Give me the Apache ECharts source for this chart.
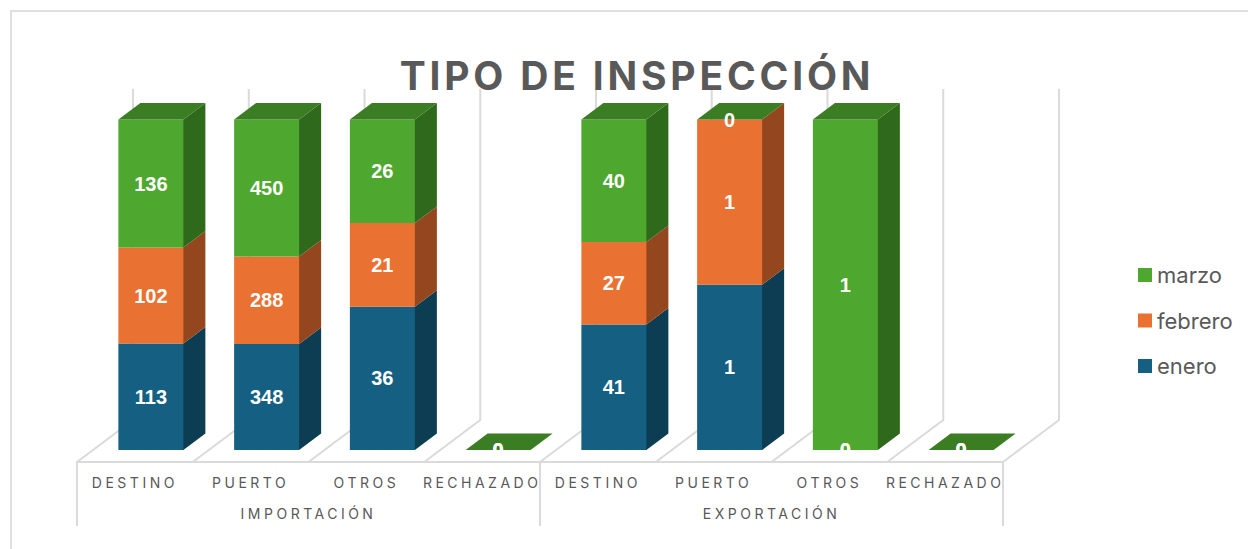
<!DOCTYPE html>
<html>
<head>
<meta charset="utf-8">
<script src="https://cdn.jsdelivr.net/npm/echarts@6/dist/echarts.min.js"></script>
<style>
    html, body { margin: 0; padding: 0; background: #fff; }
    #chart { width: 1248px; height: 549px; }
    /* zrender has no letter spacing, so it is set on the svg text by size */
    text[style*="39px"] { letter-spacing: 3.8px; }
    text[style*="14px"] { letter-spacing: 3.5px; }
</style>
</head>
<body>
<div id="chart"></div>
<script>
const categorias = ['DESTINO', 'PUERTO', 'OTROS', 'RECHAZADO', 'DESTINO', 'PUERTO', 'OTROS', 'RECHAZADO'];
const grupos = ['IMPORTACIÓN', 'EXPORTACIÓN'];
const enero = [113, 348, 36, 0, 41, 1, 0, 0];
const febrero = [102, 288, 21, 0, 27, 1, 0, 0];
const marzo = [136, 450, 26, 0, 40, 0, 1, 0];

const FONDO_DX = 22, FONDO_DY = 16.5;
const PARED_DX = 56, PARED_DY = 42, PARED_TOP = 89;
const GRIS = '#dadada';

// each stacked piece as [category, start share, end share, value] (100% stack)
function tramos(valores, previos) {
    return valores.map(function (v, i) {
        let total = enero[i] + febrero[i] + marzo[i];
        let antes = previos.reduce(function (s, p) { return s + p[i]; }, 0);
        if (total === 0) return [i, 0, 0, v];
        return [i, antes / total, (antes + v) / total, v];
    });
}

function barra3d(colores, conTapa) {
    return function (params, api) {
        let i = api.value(0);
        let ancho = api.size([1, 0])[0] * 0.5616;
        let abajo = api.coord([i, api.value(1)]);
        let arriba = api.coord([i, api.value(2)]);
        let suelo = api.coord([i, 0])[1];
        let x0 = abajo[0] - ancho / 2, x1 = abajo[0] + ancho / 2;
        let y0 = abajo[1], y1 = arriba[1];
        let partes = [];
        if (y0 - y1 > 0) {
            partes.push({
                type: 'polygon',
                shape: { points: [[x1 - 1, y0], [x1, y0], [x1 + FONDO_DX, y0 - FONDO_DY], [x1 + FONDO_DX, y1 - FONDO_DY], [x1, y1], [x1 - 1, y1]] },
                style: { fill: colores.lado }
            });
            partes.push({
                type: 'rect',
                shape: { x: x0, y: y1, width: ancho, height: y0 - y1 },
                style: { fill: colores.frente }
            });
        }
        if (conTapa) {
            partes.push({
                type: 'polygon',
                shape: { points: [[x0, y1], [x0 + FONDO_DX, y1 - FONDO_DY], [x1 + FONDO_DX, y1 - FONDO_DY], [x1, y1]] },
                style: { fill: colores.tapa }
            });
        }
        partes.push({
            type: 'text',
            z2: 100,
            style: {
                x: abajo[0], y: (y0 + y1) / 2,
                text: String(api.value(3)),
                align: 'center', verticalAlign: 'middle',
                fill: '#fff', font: 'bold 20px "Liberation Sans", Arial, sans-serif'
            },
            clipPath: { type: 'rect', shape: { x: x0 - 10, y: y1 - 30, width: ancho + 20, height: suelo - y1 + 30 } }
        });
        return { type: 'group', children: partes };
    };
}

function paredes(params, api) {
    let i = api.value(0);
    let c = api.coord([i, 0]);
    let banda = api.size([1, 0])[0];
    let xs = [c[0] - banda / 2];
    if (i === categorias.length - 1) xs.push(c[0] + banda / 2);
    let lineas = [];
    xs.forEach(function (x) {
        lineas.push({
            type: 'polyline',
            shape: { points: [[x, c[1]], [x + PARED_DX, c[1] - PARED_DY], [x + PARED_DX, PARED_TOP]] },
            style: { fill: 'none', stroke: GRIS, lineWidth: 2 }
        });
    });
    return { type: 'group', children: lineas };
}

function serieBarra(nombre, datos, colores, conTapa) {
    return {
        name: nombre,
        type: 'custom',
        z: 3,
        xAxisIndex: 0,
        yAxisIndex: 0,
        itemStyle: { color: colores.frente },
        encode: { x: 0, y: 2 },
        data: datos,
        renderItem: barra3d(colores, conTapa)
    };
}

var chart = echarts.init(document.getElementById('chart'), null, { renderer: 'svg' });
let option = {
    animation: false,
    backgroundColor: '#fff',
    title: {
        text: 'TIPO DE INSPECCIÓN',
        left: 632,
        top: 51,
        textAlign: 'center',
        textStyle: { color: '#595959', fontSize: 39, fontWeight: 'bold', fontFamily: 'Inter' }
    },
    legend: {
        orient: 'vertical',
        left: 1133,
        top: 259,
        icon: 'rect',
        itemWidth: 14,
        itemHeight: 14,
        itemGap: 23.5,
        selectedMode: false,
        data: ['marzo', 'febrero', 'enero'],
        textStyle: { color: '#595959', fontSize: 22, fontFamily: 'Inter' }
    },
    graphic: [
        { type: 'polyline', shape: { points: [[11, 549], [11, 11], [1248, 11]] }, style: { fill: 'none', stroke: '#e0e0e0', lineWidth: 2 } }
    ],
    grid: [
        { left: 93, width: 926, top: 119.5, height: 330.5 },
        { left: 77, width: 926, top: 461, height: 1 }
    ],
    xAxis: [
        { type: 'category', gridIndex: 0, data: categorias, show: false },
        {
            type: 'category', gridIndex: 1, data: categorias, position: 'bottom',
            axisLine: { lineStyle: { color: GRIS, width: 2 } },
            axisTick: { show: false },
            axisLabel: { interval: 0, margin: 13, color: '#595959', fontSize: 14, fontFamily: 'Inter' }
        },
        {
            type: 'category', gridIndex: 1, data: grupos, position: 'bottom',
            axisLine: { show: false },
            axisTick: { show: true, length: 64, lineStyle: { color: GRIS, width: 2 } },
            axisLabel: { interval: 0, margin: 44, color: '#595959', fontSize: 14, fontFamily: 'Inter' }
        }
    ],
    yAxis: [
        { type: 'value', gridIndex: 0, min: 0, max: 1, show: false },
        { type: 'value', gridIndex: 1, min: 0, max: 1, show: false }
    ],
    series: [
        {
            type: 'custom',
            z: 1,
            xAxisIndex: 1,
            yAxisIndex: 1,
            data: categorias.map(function (c, i) { return [i, 0]; }),
            renderItem: paredes
        },
        serieBarra('enero', tramos(enero, []), { frente: '#156082', lado: '#0d3d52', tapa: '#115270' }, false),
        serieBarra('febrero', tramos(febrero, [enero]), { frente: '#e97132', lado: '#94471f', tapa: '#c25e29' }, false),
        serieBarra('marzo', tramos(marzo, [enero, febrero]), { frente: '#4ea72e', lado: '#2f691c', tapa: '#3b7d23' }, true)
    ]
};
chart.setOption(option);
</script>
</body>
</html>
